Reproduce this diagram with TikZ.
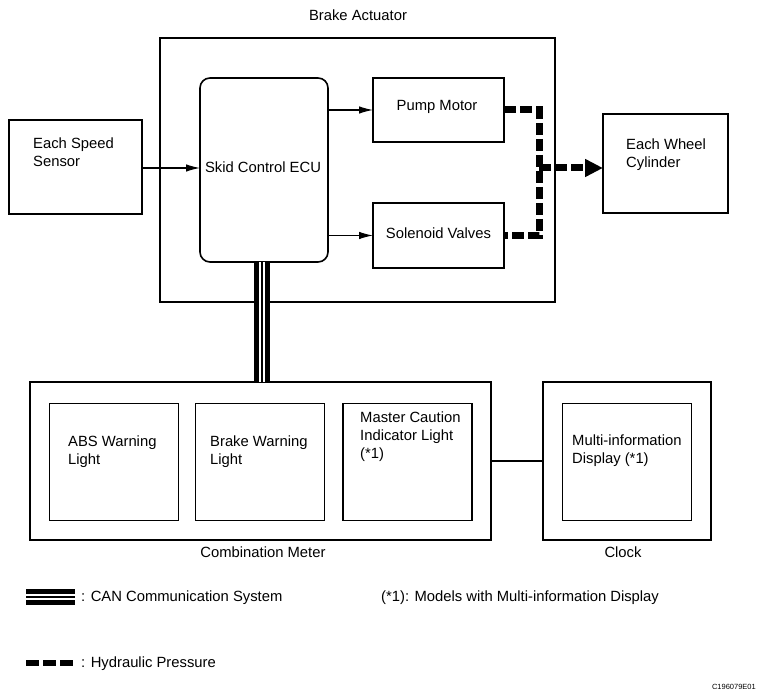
\documentclass[tikz,border=0pt]{standalone}
\usepackage{fontspec}
\setmainfont{Liberation Sans}
\usetikzlibrary{arrows.meta}
\begin{document}
\begin{tikzpicture}[x=1pt,y=-1pt,
  box/.style={draw, line width=1.6pt, inner sep=0pt, outer sep=0pt},
  txt/.style={inner sep=0pt, font=\fontsize{14.8}{18}\selectfont},
  lbl/.style={txt, anchor=north west, align=left},
  arr/.style={line width=1.1pt, -{Latex[length=14pt,width=7.5pt]}},
  hyd/.style={line width=7pt, dash pattern=on 12pt off 4pt},
  can/.style={line width=16pt, postaction={draw=white, line width=6pt}, postaction={draw=black, line width=1.3pt}}]
\useasboundingbox (0,0) rectangle (764,700);

% Brake actuator group
\node[txt, anchor=base] (tact) at (358,21) {Brake Actuator};
\node[box, minimum width=395pt, minimum height=264pt] (act) at (357.5,170) {};
\node[box, rounded corners=10pt, minimum width=128pt, minimum height=184pt] (ecu) at (264,170) {};
\node[txt] (tecu) at (263,167) {Skid Control ECU};
\node[box, minimum width=131pt, minimum height=64pt] (pump) at (438.5,110) {};
\node[txt] (tpump) at (437,107) {Pump Motor};
\node[box, minimum width=131pt, minimum height=65pt] (sol) at (438.5,235.5) {};
\node[txt] (tsol) at (438.5,233.5) {Solenoid Valves};

% outside
\node[box, minimum width=133pt, minimum height=94pt] (speed) at (75.5,167) {};
\node[lbl] (tspeed) at (33,138) {Each Speed\\Sensor};
\node[box, minimum width=125pt, minimum height=99pt] (wheel) at (665.5,163.5) {};
\node[lbl] (twheel) at (626,139) {Each Wheel\\Cylinder};

% arrows
\draw[arr] (speed.east |- 0,168) -- (ecu.west |- 0,168);
\draw[arr] (ecu.east |- pump.west) -- (pump.west);
\draw[arr] (ecu.east |- sol.west) -- (sol.west);

% hydraulic
\coordinate (jx) at (539,168);
\draw[hyd, line join=miter] (pump.east) -| (jx) |- (sol.east);
\draw[hyd, -{Triangle[length=18pt,width=17pt]}] (jx) -- (jx -| wheel.west);

% combination meter
\node[box, minimum width=461pt, minimum height=158pt] (comb) at (260.5,461) {};
\node[txt, anchor=base] (tcomb) at (263,558) {Combination Meter};
\node[box, minimum width=129pt, minimum height=117pt] (abs) at (114,462) {};
\node[lbl] (tabs) at (68,436) {ABS Warning\\Light};
\node[box, minimum width=129pt, minimum height=117pt] (brk) at (260,462) {};
\node[lbl] (tbrk) at (210,436) {Brake Warning\\Light};
\node[box, minimum width=129pt, minimum height=117pt] (mc) at (407.5,462) {};
\node[lbl] (tmc) at (360,412) {Master Caution\\Indicator Light\\(*1)};

% clock
\node[box, minimum width=168pt, minimum height=158pt] (clock) at (627,461) {};
\node[txt, anchor=base] (tclock) at (623,558) {Clock};
\node[box, minimum width=129pt, minimum height=117pt] (mid) at (627,462) {};
\node[lbl] (tmid) at (572,435) {Multi-information\\Display (*1)};

\draw[line width=1.1pt] (comb.east) -- (clock.west);

% CAN bus
\draw[can] ([xshift=-2pt]ecu.south) -- ([xshift=-2pt]ecu.south |- comb.north);

% legend
\coordinate (c1) at (26,597);
\coordinate (c2) at (75,597);
\draw[can] (c1) -- (c2);
\node[txt, anchor=base west] (lcan) at (81,602) {: CAN Communication System};
\node[txt, anchor=base west] (lnote) at (381,602) {(*1): Models with Multi-information Display};
\coordinate (h1) at (26,663);
\coordinate (h2) at (75,663);
\draw[line width=6pt, dash pattern=on 13pt off 4pt] (h1) -- (h2);
\node[txt, anchor=base west] (lhyd) at (81,668) {: Hydraulic Pressure};
\node[inner sep=0pt, anchor=base east, font=\fontsize{7.5}{9}\selectfont] (code) at (756,689) {C196079E01};
\end{tikzpicture}
\end{document}
